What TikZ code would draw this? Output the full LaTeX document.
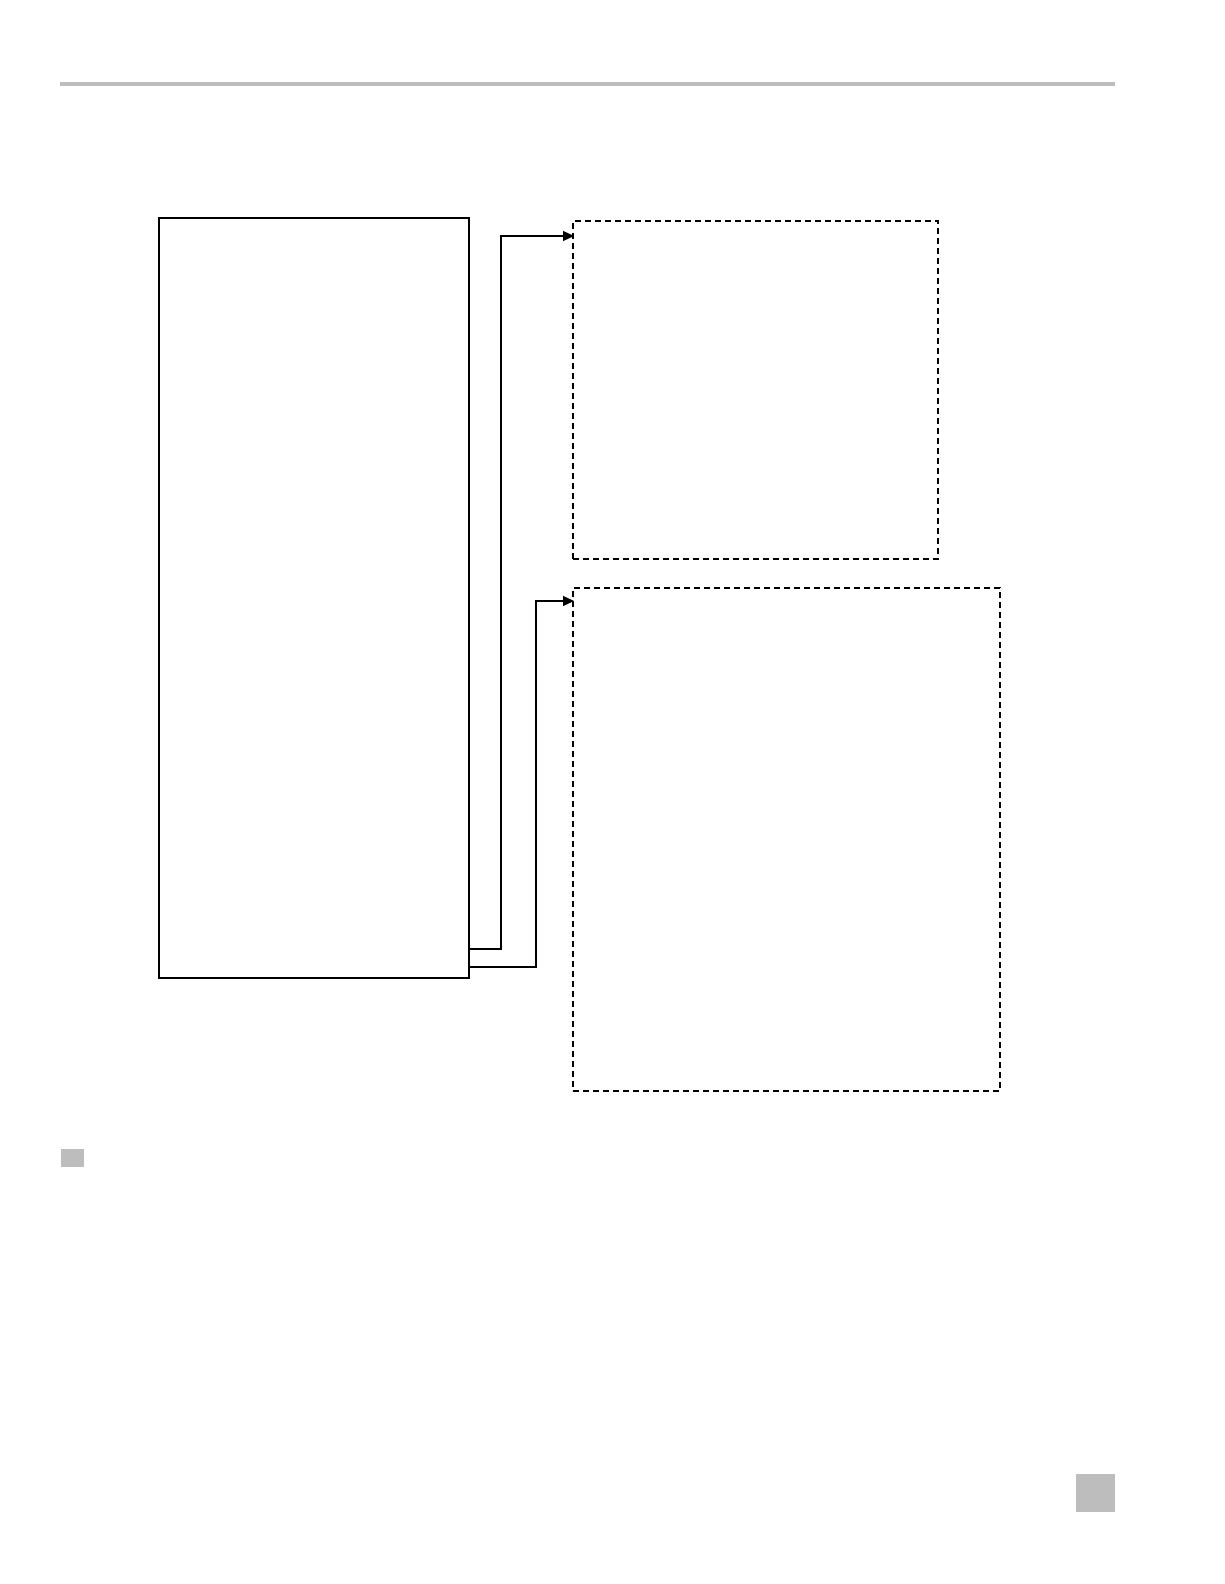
\documentclass[tikz,border=0pt]{standalone}
\usetikzlibrary{arrows.meta}
\definecolor{rulegray}{HTML}{BDBDBD}
\tikzset{
  mainbox/.style={draw=black, line width=1.8bp, fill=none, inner sep=0pt, outer sep=0pt},
  dashbox/.style={draw=black, line width=1.1bp, dash pattern=on 6bp off 4bp, inner sep=0pt, outer sep=0pt},
  conn/.style={draw=black, line width=1.1bp, -{Triangle[length=11bp,width=10bp]}},
  graysq/.style={fill=rulegray, draw=none, inner sep=0pt, outer sep=0pt}
}
\begin{document}
\begin{tikzpicture}[x=1bp,y=-1bp]
\useasboundingbox (0,0) rectangle (1224,1584);
\fill[white] (0,0) rectangle (1224,1584);
% top rule
\draw[rulegray, line width=3.5bp] (60,84) -- (1115,84);
% main box
\node[mainbox, minimum width=310bp, minimum height=760bp, anchor=north west] (big) at (159,218) {};
% dashed boxes
\node[dashbox, minimum width=365bp, minimum height=338bp, anchor=north west] (d1) at (573,221) {};
\node[dashbox, minimum width=427bp, minimum height=503bp, anchor=north west] (d2) at (573,588) {};
% connector endpoints
\coordinate (o1) at (469,949);
\coordinate (o2) at (469,967);
\coordinate (i1) at (574,236);
\coordinate (i2) at (574,601);
\draw[conn] (o1) -- ++(32,0) |- (i1);
\draw[conn] (o2) -- ++(67,0) |- (i2);
% gray squares
\node[graysq, minimum width=23bp, minimum height=18bp, anchor=north west] (sq1) at (61,1149) {};
\node[graysq, minimum width=39bp, minimum height=38bp, anchor=north west] (sq2) at (1076,1474) {};
\end{tikzpicture}
\end{document}
